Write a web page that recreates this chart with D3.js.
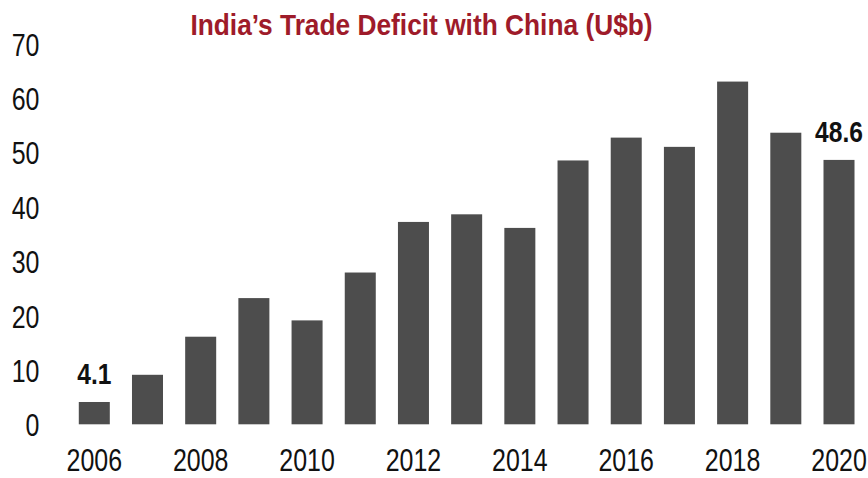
<!DOCTYPE html>
<html>
<head>
<meta charset="utf-8">
<script src="https://cdn.jsdelivr.net/npm/d3@7"></script>
<style>
  html, body { margin: 0; padding: 0; background: #fff; }
  svg { display: block; }
  text { font-family: "Liberation Sans", Arial, sans-serif; }
</style>
</head>
<body>
<svg id="chart" width="868" height="478"></svg>
<script>
// India's trade deficit with China, US$ billion
const years = [2006, 2007, 2008, 2009, 2010, 2011, 2012, 2013, 2014, 2015, 2016, 2017, 2018, 2019, 2020];
const deficit = [4.1, 9.1, 16.1, 23.2, 19.1, 27.9, 37.2, 38.6, 36.1, 48.5, 52.7, 51.0, 63.0, 53.6, 48.6];
const yTicks = [0, 10, 20, 30, 40, 50, 60, 70];
const xTickYears = [2006, 2008, 2010, 2012, 2014, 2016, 2018, 2020];
const labelledYears = [2006, 2020];
const titleText = "India\u2019s Trade Deficit with China (U$b)";

// Horizontal squeeze to get a narrow face from the regular sans
function squeeze(k) {
  return sel => sel.each(function () {
    const t = d3.select(this);
    const x = +t.attr("x") || 0;
    t.attr("x", x / k).attr("transform", `scale(${k},1)`);
  });
}

const data = years.map((y, i) => ({ year: y, value: deficit[i] }));

const svg = d3.select("#chart");

const x = d3.scaleBand()
  .domain(years)
  .range([67.7, 865.6])
  .paddingInner(0.417)
  .paddingOuter(0.2085);

const y = d3.scaleLinear()
  .domain([0, 70])
  .range([424.3, 43.5]);

// Title
svg.append("text")
  .attr("x", 421.5)
  .attr("y", 35)
  .attr("text-anchor", "middle")
  .attr("font-size", 30)
  .attr("font-weight", "bold")
  .attr("fill", "#9e1b2a")
  .text(titleText)
  .call(squeeze(0.877));

// Bars
svg.append("g")
  .selectAll("rect")
  .data(data)
  .join("rect")
  .attr("x", d => x(d.year))
  .attr("width", x.bandwidth())
  .attr("y", d => y(d.value))
  .attr("height", d => y(0) - y(d.value))
  .attr("fill", "#4d4d4d");

// Y axis (labels only)
const yAxis = d3.axisLeft(y).tickValues(yTicks).tickSize(0).tickPadding(0);
svg.append("g")
  .attr("transform", "translate(39.5,0)")
  .call(yAxis)
  .call(g => g.select(".domain").remove())
  .call(g => g.selectAll("text")
    .attr("font-size", 32)
    .attr("font-family", null)
    .attr("fill", "#111")
    .attr("dy", "0.36em")
    .call(squeeze(0.78)));

// X axis (every other year)
const xAxis = d3.axisBottom(x).tickValues(xTickYears).tickSize(0).tickPadding(0);
svg.append("g")
  .attr("transform", "translate(0,424.3)")
  .call(xAxis)
  .call(g => g.select(".domain").remove())
  .call(g => g.selectAll("text")
    .attr("font-size", 32)
    .attr("font-family", null)
    .attr("fill", "#111")
    .attr("y", 46.5)
    .attr("dy", 0)
    .call(squeeze(0.78)));

// Value labels on first and last bars
svg.append("g")
  .selectAll("text")
  .data(data.filter(d => labelledYears.includes(d.year)))
  .join("text")
  .attr("x", d => x(d.year) + x.bandwidth() / 2)
  .attr("y", d => y(d.value) - 18)
  .attr("text-anchor", "middle")
  .attr("font-size", 30)
  .attr("font-weight", "bold")
  .attr("fill", "#111")
  .text(d => d.value.toFixed(1))
  .call(squeeze(0.82));
</script>
</body>
</html>
